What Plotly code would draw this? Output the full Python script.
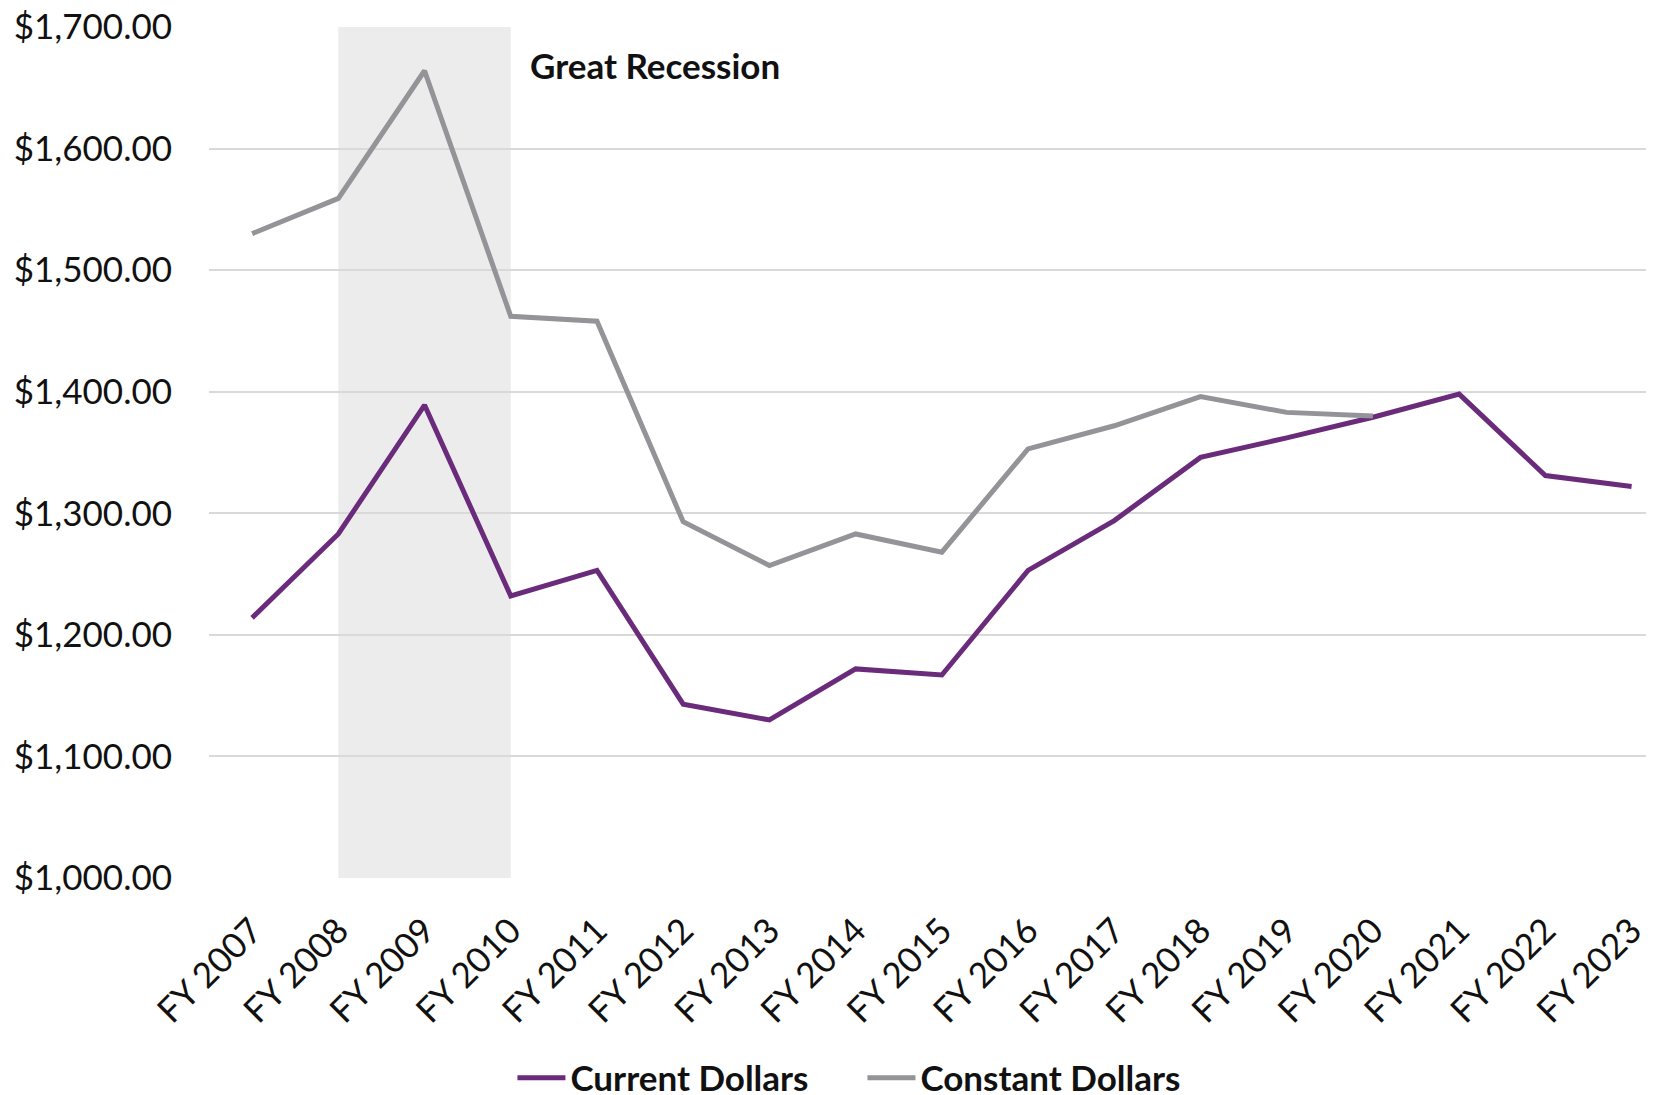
import plotly.graph_objects as go

years = ["FY 2007", "FY 2008", "FY 2009", "FY 2010", "FY 2011", "FY 2012", "FY 2013",
         "FY 2014", "FY 2015", "FY 2016", "FY 2017", "FY 2018", "FY 2019", "FY 2020",
         "FY 2021", "FY 2022", "FY 2023"]
current_dollars = [1214, 1283, 1389, 1232, 1253, 1143, 1130, 1172, 1167, 1253, 1294,
                   1346, 1362, 1379, 1398, 1331, 1322]
constant_dollars = [1530, 1559, 1664, 1462, 1458, 1293, 1257, 1283, 1268, 1353, 1372,
                    1396, 1383, 1380, None, None, None]
recession_start = "FY 2008"
recession_end = "FY 2010"
recession_label = "Great Recession"
y_ticks = [1000, 1100, 1200, 1300, 1400, 1500, 1600, 1700]

FONT = "Lato"
PURPLE = "#6a2b7b"
GRAY = "#939398"

fig = go.Figure()
fig.add_trace(go.Scatter(x=years, y=current_dollars, mode="lines", name="Current Dollars",
                         line=dict(color=PURPLE, width=5)))
fig.add_trace(go.Scatter(x=years, y=constant_dollars, mode="lines", name="Constant Dollars",
                         line=dict(color=GRAY, width=5)))

i0 = years.index(recession_start)
i1 = years.index(recession_end)
fig.add_shape(type="rect", xref="x", yref="y", x0=i0, x1=i1, y0=y_ticks[0], y1=y_ticks[-1],
              fillcolor="#ececec", line=dict(width=0), layer="below")
fig.add_annotation(x=i1, y=1669, xref="x", yref="y", text="<b>" + recession_label + "</b>",
                   showarrow=False, xanchor="left", xshift=17,
                   font=dict(family=FONT, size=35, color="#111111"))

# page body has an 8px margin; figure sized to fit inside the 1654x1095 window
fig.update_layout(
    width=1646, height=1087,
    margin=dict(l=201, r=0, t=19, b=217, autoexpand=False),
    paper_bgcolor="white", plot_bgcolor="white",
    font=dict(family=FONT, color="#111111"),
    showlegend=True,
    legend=dict(orientation="h", x=0.210, xanchor="left", y=-0.235, yanchor="middle",
                font=dict(family=FONT, size=35, color="#111111", weight="bold"),
                itemwidth=48, entrywidth=287, entrywidthmode="pixels",
                traceorder="normal", tracegroupgap=0),
)
fig.update_xaxes(type="category", range=[-0.5, 16.26], tickangle=-45, automargin=False,
                 tickfont=dict(family=FONT, size=35, color="#111111"),
                 showgrid=False, showline=False, ticks="", ticklabelstandoff=24,
                 ticklabeloverflow="allow")
fig.update_yaxes(range=[y_ticks[0], y_ticks[-1]], tickvals=y_ticks, tickformat="$,.2f",
                 automargin=False, ticklabeloverflow="allow",
                 tickfont=dict(family=FONT, size=35, color="#111111"),
                 showgrid=True, gridcolor="#d9d9d9", gridwidth=1.5, zeroline=False,
                 showline=False, ticks="", ticklabelstandoff=36)

fig.write_html("out.html")
